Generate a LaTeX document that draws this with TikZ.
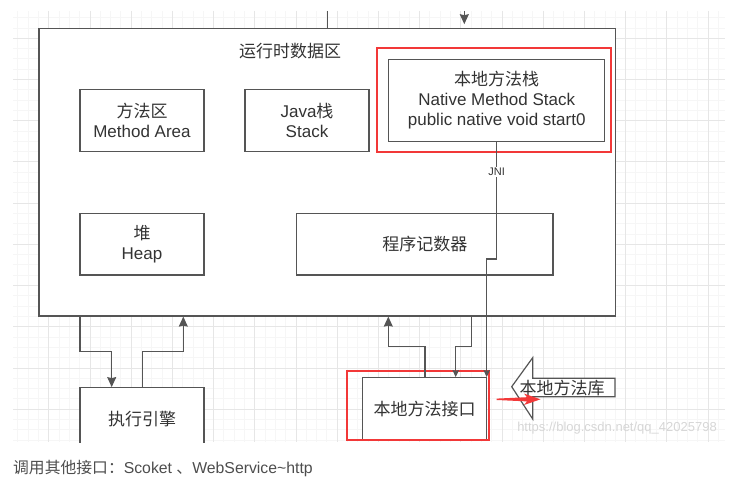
\documentclass[tikz,border=0pt]{standalone}
\usepackage{fontspec}
\setmainfont{Liberation Sans}
\newfontfamily\cjk{Noto Sans CJK SC}
\usetikzlibrary{arrows.meta}
\definecolor{gridminor}{RGB}{246,246,246}
\definecolor{gridmajor}{RGB}{230,230,230}
\definecolor{linegray}{RGB}{85,85,85}
\definecolor{txt}{RGB}{51,51,51}
\definecolor{hl}{RGB}{242,56,56}
\definecolor{captxt}{RGB}{77,77,77}
\newcommand\boxfont{\fontsize{17bp}{20bp}\selectfont}
\begin{document}
\begin{tikzpicture}[x=1bp,y=-1bp,
  box/.style={draw=linegray, line width=1.2bp, fill=white, rectangle, inner sep=0pt,
    align=center, text=txt, font=\boxfont},
  redbox/.style={draw=hl, line width=2.2bp, rectangle, inner sep=0pt},
  conn/.style={draw=linegray, line width=1.2bp},
  arr/.style={conn, -{Stealth[length=10bp,width=9bp,inset=1bp]}},
  arrs/.style={conn, -{Stealth[length=7bp,width=6.5bp,inset=0.8bp]}},
  lbl/.style={text=txt, font=\boxfont, inner sep=0pt}]
\useasboundingbox (0,0) rectangle (744,496);
% background grid
\foreach \k in {-3,...,65} {
  \pgfmathsetmacro\xx{48.7+10.3*\k}
  \draw[gridminor, line width=0.8bp] (\xx,11) -- (\xx,442);
}
\foreach \k in {-2,...,39} {
  \pgfmathsetmacro\yy{38.3+10.3*\k}
  \draw[gridminor, line width=0.8bp] (13,\yy) -- (725,\yy);
}
\foreach \k in {0,4,...,64} {
  \pgfmathsetmacro\xx{48.7+10.3*\k}
  \draw[gridmajor, line width=0.8bp] (\xx,11) -- (\xx,442);
}
\foreach \k in {0,4,...,36} {
  \pgfmathsetmacro\yy{38.3+10.3*\k}
  \draw[gridmajor, line width=0.8bp] (13,\yy) -- (725,\yy);
}
% runtime data area
\node[box, minimum width=576.3bp, minimum height=287.7bp] (runtime) at (327.15,172.15) {};
\node[lbl] (title) at (290,50.7) {\cjk 运行时数据区};
\node[box, minimum width=124bp, minimum height=62.4bp] (method) at (142,120.5) {{\cjk 方法区}\\Method Area};
\node[box, minimum width=124bp, minimum height=62.4bp] (jstack) at (307,120.5) {Java{\cjk 栈}\\Stack};
\node[box, minimum width=124bp, minimum height=61.7bp] (heap) at (142,244.2) {{\cjk 堆}\\Heap};
\node[box, minimum width=256.3bp, minimum height=61.7bp] (pc) at (424.85,244.2) {\cjk 程序记数器};
\node[box, minimum width=216bp, minimum height=82.4bp] (nms) at (496.7,100.5) {{\cjk 本地方法栈}\\Native Method Stack\\public native void start0};
\node[redbox, minimum width=234.3bp, minimum height=103.4bp] (nmsred) at (494.2,100) {};
% top connectors
\coordinate (t1) at (327.3,11);
\draw[conn] (t1) -- (t1 |- runtime.north);
\coordinate (t2) at (464.3,11);
\draw[arr, shorten >=3.5bp] (t2) -- (t2 |- runtime.north);
% lower boxes (cut at the grid's lower edge)
\begin{scope}
\clip (0,0) rectangle (744,442);
\node[box, minimum width=124bp, minimum height=62bp] (engine) at (142,418.7) {\cjk 执行引擎};
\node[box, minimum width=124bp, minimum height=62bp] (nmi) at (424.7,408.7) {\cjk 本地方法接口};
\end{scope}
\node[redbox, minimum width=142.6bp, minimum height=69.3bp] (nmired) at (418,405.35) {};
% JNI connector
\coordinate (j1) at (496.7,259);
\coordinate (j2) at (486.7,259);
\draw[arrs] (nms.south) -- (j1) -- (j2) -- (j2 |- nmi.north);
\node[font=\fontsize{11bp}{12bp}\selectfont, text=txt, fill=white, inner sep=1bp] (jni) at (496.7,172) {JNI};
% execution engine connectors
\coordinate (l1) at (80,351.7);
\coordinate (l2) at (111.7,351.7);
\draw[arr] (l1 |- runtime.south) -- (l1) -- (l2) -- (l2 |- engine.north);
\coordinate (l3) at (142.3,351.7);
\coordinate (l4) at (183.3,351.7);
\draw[arr] (l3 |- engine.north) -- (l3) -- (l4) -- (l4 |- runtime.south);
% native interface connectors
\coordinate (r1) at (425,346.7);
\coordinate (r2) at (388.3,346.7);
\draw[arr] (r1 |- nmi.north) -- (r1) -- (r2) -- (r2 |- runtime.south);
\coordinate (r3) at (471.7,346.7);
\coordinate (r4) at (455.7,346.7);
\draw[arrs] (r3 |- runtime.south) -- (r3) -- (r4) -- (r4 |- nmi.north);
% native library block arrow
\draw[linegray, line width=1.2bp, fill=white] (511.7,386.7) -- (532.7,357.7) -- (532.7,378.3) -- (615,378.3) -- (615,396.7) -- (532.7,396.7) -- (532.7,419) -- cycle;
\node[lbl] (lib) at (562,387.7) {\cjk 本地方法库};
% red arrow
\fill[hl] (496.7,398.6) -- (527,397.2) -- (524,393.6) -- (540.5,399.3) -- (524,405) -- (527,401.4) -- (496.7,400) -- cycle;
% watermark
\node[font=\fontsize{13bp}{14bp}\selectfont, text=black!16, inner sep=0pt] (wm) at (617,427.7) {https://blog.csdn.net/qq\_42025798};
% caption
\node[anchor=west, font=\fontsize{15.8bp}{18bp}\selectfont, text=captxt, inner sep=0pt] (cap) at (13,469) {{\cjk 调用其他接口：}Scoket {\cjk 、}WebService\textasciitilde http};
\end{tikzpicture}
\end{document}
